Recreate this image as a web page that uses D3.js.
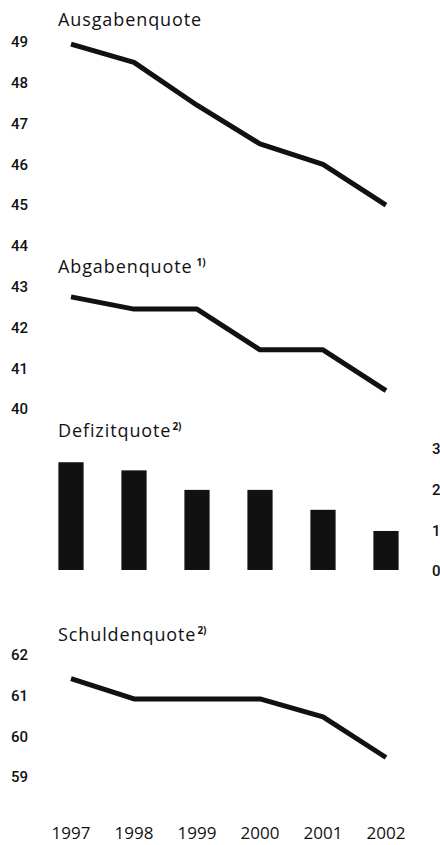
<!DOCTYPE html>
<html>
<head>
<meta charset="utf-8">
<script src="https://cdn.jsdelivr.net/npm/d3@7"></script>
<style>
  html, body { margin: 0; padding: 0; background: #fff; }
  svg { display: block; }
  .yax .tick text { font-family: Roboto, "Open Sans", sans-serif; font-size: 15px; font-weight: 500; fill: #111; }
  .title { font-family: "Open Sans", sans-serif; font-size: 18px; letter-spacing: 0.9px; fill: #111; }
  .sup { font-size: 10px; font-weight: 700; letter-spacing: 0; }
  .xax .tick text { font-family: "Open Sans", sans-serif; font-size: 17px; font-weight: 500; fill: #111; }
</style>
</head>
<body>
<script>
const years = ["1997", "1998", "1999", "2000", "2001", "2002"];
const ausgabenquote = [48.95, 48.5, 47.45, 46.5, 46.0, 45.0];
const abgabenquote = [42.75, 42.45, 42.45, 41.45, 41.45, 40.45];
const defizitquote = [2.65, 2.45, 1.97, 1.97, 1.48, 0.96];
const schuldenquote = [61.42, 60.92, 60.92, 60.92, 60.48, 59.48];
const topTicks = [40, 41, 42, 43, 44, 45, 46, 47, 48, 49];
const barTicks = [0, 1, 2, 3];
const debtTicks = [59, 60, 61, 62];

const W = 440, H = 845;
const svg = d3.select("body").append("svg").attr("width", W).attr("height", H);

const x = d3.scaleBand().domain(years).range([39.5, 417.5]).paddingInner(0.6).paddingOuter(0.3);
const cx = d => x(d) + x.bandwidth() / 2;

const yTop = d3.scaleLinear().domain([40, 49]).range([409, 42]);
const yBar = d3.scaleLinear().domain([0, 3]).range([570, 448]);
const yDebt = d3.scaleLinear().domain([59, 62]).range([777, 655]);

function cleanAxis(g) {
  g.select(".domain").remove();
  g.selectAll(".tick line").remove();
}

svg.append("g").attr("class", "yax").attr("transform", "translate(28,0)")
  .call(d3.axisLeft(yTop).tickValues(topTicks).tickSize(0).tickPadding(0).tickFormat(d3.format("d")))
  .call(cleanAxis);

svg.append("g").attr("class", "yax").attr("transform", "translate(432,1)")
  .call(d3.axisRight(yBar).tickValues(barTicks).tickSize(0).tickPadding(0).tickFormat(d3.format("d")))
  .call(cleanAxis);

svg.append("g").attr("class", "yax").attr("transform", "translate(28,0)")
  .call(d3.axisLeft(yDebt).tickValues(debtTicks).tickSize(0).tickPadding(0).tickFormat(d3.format("d")))
  .call(cleanAxis);

const xAxis = svg.append("g").attr("class", "xax").attr("transform", "translate(0,839)")
  .call(d3.axisBottom(x).tickSize(0).tickPadding(0))
  .call(cleanAxis);
xAxis.selectAll("text").attr("dy", 0);

function title(txt, sup, tx, ty, gap) {
  const t = svg.append("text").attr("class", "title").attr("x", tx).attr("y", ty);
  t.append("tspan").text(txt);
  if (sup) t.append("tspan").attr("class", "sup").attr("dx", gap).attr("dy", -7).text(sup);
}
title("Ausgabenquote", null, 58, 26);
title("Abgabenquote", "1)", 58, 273, 4);
title("Defizitquote", "2)", 58, 437, 1);
title("Schuldenquote", "2)", 58, 641, 1);

const lineTop = d3.line().x((d, i) => cx(years[i])).y(d => yTop(d));
const lineDebt = d3.line().x((d, i) => cx(years[i])).y(d => yDebt(d));

[ausgabenquote, abgabenquote].forEach(s => {
  svg.append("path").datum(s).attr("d", lineTop)
    .attr("fill", "none").attr("stroke", "#111").attr("stroke-width", 5)
    .attr("stroke-linejoin", "round");
});
svg.append("path").datum(schuldenquote).attr("d", lineDebt)
  .attr("fill", "none").attr("stroke", "#111").attr("stroke-width", 5)
  .attr("stroke-linejoin", "round");

svg.append("g").selectAll("rect").data(defizitquote).join("rect")
  .attr("x", (d, i) => x(years[i]))
  .attr("y", d => yBar(d))
  .attr("width", x.bandwidth())
  .attr("height", d => yBar(0) - yBar(d))
  .attr("fill", "#111");
</script>
</body>
</html>
